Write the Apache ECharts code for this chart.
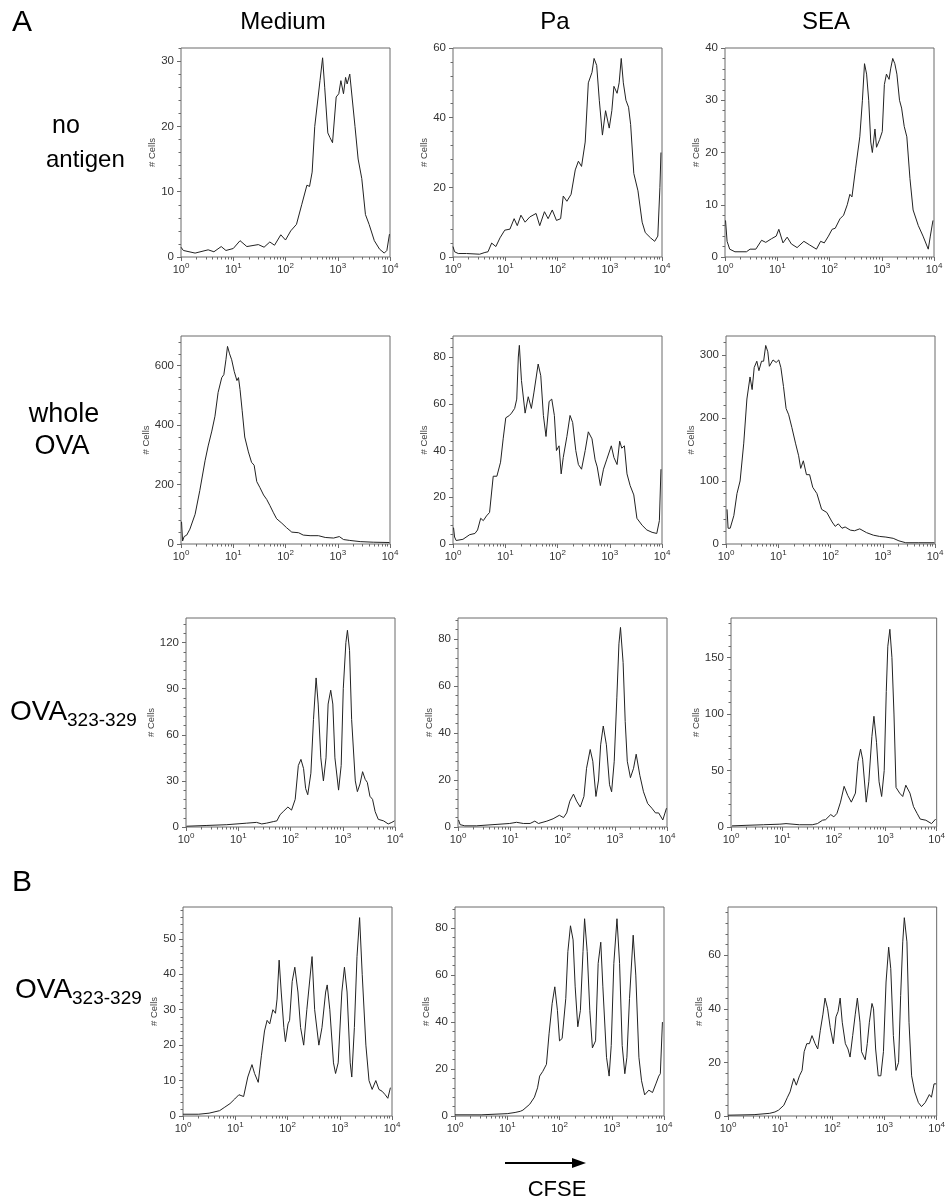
<!DOCTYPE html>
<html>
<head>
<meta charset="utf-8">
<title>CFSE proliferation histograms</title>
<script src="https://cdn.jsdelivr.net/npm/echarts@6/dist/echarts.min.js"></script>
<style>
  html, body { margin: 0; padding: 0; background: #fff; }
  #chart { width: 948px; height: 1203px; }
</style>
</head>
<body>
<div id="chart"></div>
<script>
// Column and row headings
const columnTitles = ['Medium', 'Pa', 'SEA'];
const rowLabels = ['no antigen', 'whole OVA', 'OVA323-329', 'OVA323-329'];

// Log-decade tick labels on the CFSE axis (exponent of 10)
const xDecades = [0, 1, 2, 3, 4];

// Y axis ranges and major tick steps, one per panel (row by row)
const yMax  = [32, 60, 40, 700, 89, 330, 136, 89, 185, 59, 89, 78];
const yStep = [10, 20, 10, 200, 20, 100, 30, 20, 50, 10, 20, 20];

// Histogram traces: [log10(CFSE), # cells]
// Row A1: no antigen
const noAgMedium = [[0,1.5],[0.045,1.0],[0.27,0.6],[0.52,1.1],[0.63,0.8],[0.77,1.6],[0.86,1.0],[1.0,1.3],[1.13,2.5],[1.26,1.6],[1.48,1.9],[1.59,1.5],[1.70,2.3],[1.79,1.8],[1.91,3.4],[2.0,2.6],[2.10,4.0],[2.21,5.0],[2.31,8.0],[2.41,11.0],[2.46,10.8],[2.51,13.0],[2.56,20.0],[2.66,27.0],[2.71,30.5],[2.75,26.0],[2.81,19.0],[2.85,18.3],[2.90,17.5],[2.97,24.5],[3.02,25.0],[3.06,27.0],[3.11,25.0],[3.15,27.5],[3.18,26.5],[3.23,28.0],[3.33,20.0],[3.39,15.0],[3.46,12.0],[3.53,6.5],[3.60,5.0],[3.70,2.5],[3.80,1.2],[3.89,0.6],[3.94,1.0],[3.99,3.5]];
const noAgPa = [[0,3],[0.03,1.5],[0.10,1.0],[0.26,1.0],[0.51,0.8],[0.61,1.3],[0.67,1.5],[0.74,4],[0.82,3],[0.90,5.5],[0.99,7.7],[1.09,8],[1.17,11],[1.23,9],[1.30,12],[1.38,10],[1.47,11.5],[1.59,12.5],[1.66,9],[1.75,13],[1.82,11],[1.90,13.5],[1.98,10.5],[2.06,11],[2.11,17.5],[2.18,16],[2.26,18],[2.34,25],[2.40,27.5],[2.46,26],[2.53,33],[2.59,50],[2.66,53],[2.70,57],[2.75,55],[2.80,45],[2.86,35],[2.92,42],[2.99,37],[3.04,42],[3.08,49],[3.14,47],[3.18,50],[3.22,57],[3.26,50],[3.31,45],[3.36,43],[3.40,38],[3.46,24],[3.54,19],[3.62,10],[3.68,7],[3.78,5.5],[3.86,4.5],[3.92,6],[3.96,20],[3.98,30]];
const noAgSEA = [[0.01,7],[0.04,3],[0.09,1.5],[0.19,1.0],[0.41,1.0],[0.48,1.5],[0.59,1.5],[0.70,3.2],[0.78,2.8],[0.89,3.5],[0.98,4],[1.03,5.3],[1.11,2.7],[1.19,3.8],[1.27,2.5],[1.38,1.8],[1.51,3.0],[1.62,2.3],[1.75,1.5],[1.83,3],[1.90,2.7],[1.98,4],[2.05,5.3],[2.11,5.5],[2.20,7.3],[2.27,8],[2.34,10],[2.39,12],[2.43,11.5],[2.50,17],[2.58,23],[2.63,30],[2.67,37],[2.71,35],[2.75,30],[2.79,22],[2.82,20],[2.87,24.5],[2.90,21],[2.96,22.5],[3.01,24],[3.05,33],[3.09,35],[3.14,34],[3.17,36],[3.21,38],[3.25,37],[3.29,35],[3.34,30],[3.38,28.5],[3.43,25],[3.48,23],[3.54,15],[3.60,9],[3.70,6],[3.79,4],[3.89,1.5],[3.93,4],[3.98,7]];

// Row A2: whole OVA
const ovaMedium = [[0.01,75],[0.03,10],[0.06,25],[0.11,30],[0.17,50],[0.27,100],[0.36,180],[0.46,280],[0.52,330],[0.59,380],[0.65,430],[0.71,510],[0.78,560],[0.82,570],[0.86,620],[0.89,665],[0.93,640],[0.97,620],[1.02,580],[1.07,550],[1.10,560],[1.13,520],[1.17,450],[1.22,360],[1.29,310],[1.35,275],[1.40,265],[1.45,210],[1.51,190],[1.58,165],[1.64,150],[1.70,130],[1.77,105],[1.83,85],[1.93,70],[2.02,55],[2.12,40],[2.25,38],[2.34,30],[2.47,28],[2.63,28],[2.76,22],[2.92,20],[3.03,25],[3.11,15],[3.23,12],[3.43,8],[3.68,6],[3.99,5]];
const ovaPa = [[0.01,7],[0.03,3],[0.06,1.5],[0.19,2],[0.32,4],[0.42,4.5],[0.47,6],[0.53,11],[0.58,10],[0.64,12],[0.70,13.5],[0.77,29],[0.84,29],[0.91,35],[0.96,45],[1.01,54],[1.08,55],[1.12,56],[1.18,58],[1.22,62],[1.25,80],[1.27,85],[1.31,70],[1.38,56],[1.44,63],[1.50,58],[1.55,65],[1.63,77],[1.68,72],[1.73,55],[1.78,46],[1.84,61],[1.89,62],[1.94,55],[1.98,40],[2.03,42],[2.07,30],[2.11,37],[2.18,46],[2.24,55],[2.29,52],[2.35,40],[2.40,34],[2.46,32],[2.53,40],[2.59,48],[2.66,45],[2.72,36],[2.76,33],[2.82,25],[2.88,32],[2.94,36],[3.03,42],[3.08,37],[3.14,34],[3.19,44],[3.23,41],[3.28,42],[3.33,30],[3.39,25],[3.46,21],[3.52,11],[3.62,8],[3.71,6],[3.81,5],[3.90,4.5],[3.95,10],[3.98,32]];
const ovaSEA = [[0.02,55],[0.04,25],[0.08,25],[0.15,45],[0.21,80],[0.27,100],[0.34,160],[0.40,230],[0.43,230],[0.46,265],[0.50,245],[0.54,280],[0.59,290],[0.63,275],[0.68,290],[0.72,290],[0.76,315],[0.80,305],[0.83,282],[0.90,292],[0.96,288],[1.01,292],[1.05,280],[1.10,250],[1.15,215],[1.20,205],[1.26,185],[1.33,160],[1.39,140],[1.43,120],[1.48,132],[1.54,110],[1.60,110],[1.66,90],[1.74,80],[1.83,55],[1.93,50],[2.03,35],[2.09,28],[2.15,32],[2.22,25],[2.28,27],[2.38,22],[2.46,21],[2.56,24],[2.69,18],[2.82,14],[2.94,12],[3.06,11],[3.20,9],[3.31,5],[3.44,2],[3.69,2],[3.99,2]];

// Row A3: OVA323-329 peptide
const pepMedium = [[0.01,0.5],[0.40,1],[0.78,1.5],[1.16,2.5],[1.35,3],[1.45,2],[1.54,2.5],[1.67,3.5],[1.74,4],[1.80,8],[1.86,10],[1.95,13],[2.02,11],[2.09,18],[2.15,40],[2.20,44],[2.25,38],[2.29,25],[2.33,21],[2.39,35],[2.44,70],[2.49,97],[2.53,80],[2.58,45],[2.63,30],[2.68,45],[2.72,80],[2.77,89],[2.81,80],[2.85,45],[2.92,24],[2.97,40],[3.01,90],[3.06,120],[3.09,128],[3.13,115],[3.17,70],[3.24,30],[3.28,23],[3.33,28],[3.38,36],[3.43,31],[3.47,29],[3.52,20],[3.57,18],[3.62,10],[3.68,5],[3.78,4],[3.87,2],[3.94,3],[3.99,4]];
const pepPa = [[0.01,3],[0.04,1],[0.13,0.5],[0.35,0.5],[0.67,1],[0.99,1.5],[1.12,2],[1.25,1.5],[1.38,1.5],[1.47,2.5],[1.54,1.5],[1.70,2.5],[1.82,3.5],[1.94,5],[2.02,4],[2.08,6],[2.14,11],[2.21,14],[2.27,11],[2.34,8.5],[2.41,13],[2.46,25],[2.53,33],[2.58,28],[2.64,13],[2.69,20],[2.73,35],[2.78,43],[2.84,35],[2.90,18],[2.94,15],[2.99,28],[3.04,55],[3.08,78],[3.11,85],[3.16,70],[3.20,45],[3.24,28],[3.30,21],[3.36,25],[3.41,31],[3.48,22],[3.55,15],[3.63,10],[3.71,8],[3.78,6],[3.84,6],[3.92,3],[3.99,8]];
const pepSEA = [[0.02,1],[0.31,1.5],[0.63,2],[0.95,2.5],[1.07,3],[1.33,2],[1.58,2],[1.68,3],[1.78,6],[1.84,6.5],[1.94,11],[2.00,9],[2.06,12],[2.13,22],[2.20,36],[2.27,28],[2.34,22],[2.42,30],[2.47,58],[2.52,69],[2.56,60],[2.63,22],[2.68,40],[2.74,80],[2.78,98],[2.83,75],[2.88,40],[2.93,27],[2.98,50],[3.02,120],[3.05,160],[3.09,175],[3.13,150],[3.17,100],[3.21,35],[3.28,30],[3.34,27],[3.40,37],[3.48,30],[3.55,18],[3.62,12],[3.68,7],[3.79,6],[3.90,3],[3.98,7]];

// Row B: OVA323-329 peptide, second experiment
const bMedium = [[0,0.5],[0.30,0.5],[0.50,0.8],[0.70,1.5],[0.80,2.5],[0.90,3.5],[0.99,4.8],[1.07,6],[1.16,5.5],[1.24,11],[1.32,14.5],[1.37,12],[1.44,9.5],[1.50,17],[1.56,24],[1.61,27],[1.66,26],[1.72,30],[1.77,29],[1.80,33],[1.84,44],[1.88,35],[1.93,25],[1.96,21],[2.01,26],[2.04,27],[2.09,38],[2.14,42],[2.20,35],[2.25,25],[2.31,20],[2.37,30],[2.47,45],[2.52,30],[2.60,20],[2.66,25],[2.73,35],[2.76,37],[2.81,30],[2.88,15],[2.92,12],[2.97,15],[3.04,35],[3.09,42],[3.14,35],[3.20,15],[3.23,11],[3.28,25],[3.33,45],[3.38,56],[3.43,40],[3.50,20],[3.56,10],[3.62,7.5],[3.69,10],[3.75,7.5],[3.81,7],[3.87,6],[3.92,5],[3.97,8]];
const bPa = [[0,0.5],[0.50,0.5],[1.00,1],[1.15,1.5],[1.25,2],[1.30,2.5],[1.33,3],[1.43,5],[1.52,8],[1.58,12],[1.62,17],[1.68,19],[1.75,22],[1.80,35],[1.86,48],[1.91,55],[1.96,45],[2.00,32],[2.05,33],[2.12,50],[2.16,70],[2.21,81],[2.26,75],[2.30,55],[2.35,38],[2.40,45],[2.45,70],[2.48,84],[2.53,70],[2.58,45],[2.63,29],[2.69,32],[2.74,65],[2.79,74],[2.83,55],[2.90,25],[2.95,17],[2.99,30],[3.04,65],[3.10,84],[3.15,65],[3.20,30],[3.25,18],[3.29,25],[3.34,50],[3.41,77],[3.46,60],[3.52,25],[3.57,15],[3.63,9],[3.71,11],[3.78,10],[3.85,14],[3.90,17],[3.93,18],[3.97,40]];
const bSEA = [[0,0.3],[0.50,0.5],[0.80,1.0],[0.90,1.5],[0.97,2.2],[1.07,4],[1.14,7],[1.19,9],[1.26,14],[1.31,11.5],[1.37,15],[1.42,17],[1.46,24],[1.51,27],[1.56,27],[1.61,30],[1.67,27],[1.72,25],[1.77,32],[1.82,38],[1.86,44],[1.91,40],[1.96,33],[2.02,27],[2.07,37],[2.11,39],[2.15,44],[2.19,35],[2.25,27],[2.30,25],[2.34,22],[2.39,30],[2.44,38],[2.48,44],[2.53,35],[2.56,24],[2.63,21],[2.67,27],[2.71,35],[2.76,42],[2.79,40],[2.83,25],[2.88,15],[2.93,15],[2.98,24],[3.03,50],[3.08,63],[3.12,55],[3.17,30],[3.22,17],[3.27,20],[3.31,45],[3.35,65],[3.38,74],[3.43,65],[3.47,35],[3.52,15],[3.58,9],[3.65,5],[3.71,3.5],[3.78,5],[3.86,8],[3.90,7],[3.95,12],[3.99,12]];

const traces = [noAgMedium, noAgPa, noAgSEA, ovaMedium, ovaPa, ovaSEA, pepMedium, pepPa, pepSEA, bMedium, bPa, bSEA];

// Plot frames (left, top, width, height) in page pixels
const frames = [
  [181, 48, 209, 209], [453, 48, 209, 209], [725, 48, 209, 209],
  [181, 336, 209, 208], [453, 336, 209, 208], [726, 336, 209, 208],
  [186, 618, 209, 209], [458, 618, 209, 209], [731, 618, 208, 209],
  [183, 907, 209, 209], [455, 907, 209, 209], [728, 907, 209, 209]
];

const FONT = 'Liberation Sans, Arial, Helvetica, sans-serif';
const INK = '#222';
const FRAME = '#6a6a6a';
const LABEL = '#333';

// log minor ticks: 2..9 within each decade
const minorX = [];
for (let d = 0; d < 4; d++) {
  for (let k = 2; k <= 9; k++) minorX.push(d + Math.log10(k));
}

function majorTicks(max, step) {
  const out = [];
  for (let v = 0; v <= max + 1e-9; v += step) out.push(v);
  return out;
}
function minorTicks(max, step) {
  const out = [];
  const m = step / 5;
  for (let i = 1; i * m <= max + 1e-9; i++) {
    if (i % 5 !== 0) out.push(+(i * m).toFixed(6));
  }
  return out;
}

const grid = [], xAxis = [], yAxis = [], series = [];

frames.forEach((f, i) => {
  grid.push({
    left: f[0], top: f[1], width: f[2], height: f[3],
    show: true, borderColor: FRAME, borderWidth: 1, backgroundColor: 'transparent'
  });
  // main CFSE axis with decade labels
  xAxis.push({
    gridIndex: i, type: 'value', min: 0, max: 4, interval: 1, position: 'bottom',
    axisLine: { show: false },
    axisTick: { show: true, length: 4, lineStyle: { color: FRAME } },
    splitLine: { show: false },
    axisLabel: {
      margin: 5, color: LABEL, fontFamily: FONT,
      customValues: xDecades,
      formatter: v => '{b|10}{s|' + Math.round(v) + '}',
      rich: {
        b: { fontSize: 11, fontFamily: FONT, color: LABEL, lineHeight: 16, verticalAlign: 'middle' },
        s: { fontSize: 8, fontFamily: FONT, color: LABEL, lineHeight: 16, verticalAlign: 'top' }
      }
    }
  });
  // minor log ticks
  xAxis.push({
    gridIndex: i, type: 'value', min: 0, max: 4, position: 'bottom',
    axisLine: { show: false }, axisLabel: { show: false }, splitLine: { show: false },
    axisTick: { show: true, length: 2.5, customValues: minorX, lineStyle: { color: FRAME } }
  });
  const majors = majorTicks(yMax[i], yStep[i]);
  yAxis.push({
    gridIndex: i, type: 'value', min: 0, max: yMax[i], position: 'left',
    name: '# Cells', nameLocation: 'middle', nameGap: 24, nameRotate: 90,
    nameTextStyle: { fontSize: 9.5, color: '#444', fontFamily: FONT },
    axisLine: { show: false }, splitLine: { show: false },
    axisTick: { show: true, length: 4, customValues: majors, lineStyle: { color: FRAME } },
    axisLabel: { customValues: majors, margin: 7, fontSize: 11.5, color: LABEL, fontFamily: FONT }
  });
  yAxis.push({
    gridIndex: i, type: 'value', min: 0, max: yMax[i], position: 'left',
    axisLine: { show: false }, axisLabel: { show: false }, splitLine: { show: false },
    axisTick: { show: true, length: 2.5, customValues: minorTicks(yMax[i], yStep[i]), lineStyle: { color: FRAME } }
  });
  series.push({
    type: 'line', xAxisIndex: 2 * i, yAxisIndex: 2 * i,
    data: traces[i], showSymbol: false, smooth: false, animation: false,
    lineStyle: { color: INK, width: 1 }, silent: true
  });
});

// Headings, panel letters and the CFSE arrow
const textStyle = (text, size, extra) => Object.assign({ text, fontSize: size, fontFamily: FONT, fill: '#000' }, extra || {});
const subLabel = (x, y) => ({
  type: 'text', x, y, style: {
    text: '{a|OVA}{b|323-329}', fontFamily: FONT, verticalAlign: 'middle',
    rich: { a: { fontSize: 28, fontFamily: FONT, fill: '#000', lineHeight: 36, verticalAlign: 'middle' },
            b: { fontSize: 19, fontFamily: FONT, fill: '#000', lineHeight: 36, verticalAlign: 'bottom' } } }
});
const graphic = [
  { type: 'text', left: 12, top: 8, style: textStyle('A', 30) },
  { type: 'text', left: 12, top: 868, style: textStyle('B', 30) },
  { type: 'text', x: 283, y: 22, style: textStyle(columnTitles[0], 24, { align: 'center', verticalAlign: 'middle' }) },
  { type: 'text', x: 555, y: 22, style: textStyle(columnTitles[1], 24, { align: 'center', verticalAlign: 'middle' }) },
  { type: 'text', x: 826, y: 22, style: textStyle(columnTitles[2], 24, { align: 'center', verticalAlign: 'middle' }) },
  { type: 'text', x: 52, y: 126, style: textStyle(rowLabels[0].split(' ')[0], 25, { verticalAlign: 'middle' }) },
  { type: 'text', x: 46, y: 160, style: textStyle(rowLabels[0].split(' ')[1], 24, { verticalAlign: 'middle' }) },
  { type: 'text', x: 64, y: 415, style: textStyle(rowLabels[1].split(' ')[0], 27, { align: 'center', verticalAlign: 'middle' }) },
  { type: 'text', x: 62, y: 447, style: textStyle(rowLabels[1].split(' ')[1], 27, { align: 'center', verticalAlign: 'middle' }) },
  subLabel(10, 712),
  subLabel(15, 990),
  { type: 'line', shape: { x1: 505, y1: 1163, x2: 576, y2: 1163 }, style: { stroke: '#000', lineWidth: 2 } },
  { type: 'polygon', shape: { points: [[586, 1163], [572, 1158], [572, 1168]] }, style: { fill: '#000' } },
  { type: 'text', x: 557, y: 1190, style: textStyle('CFSE', 22, { align: 'center', verticalAlign: 'middle' }) }
];

const chart = echarts.init(document.getElementById('chart'), null, { renderer: 'canvas' });
chart.setOption({
  animation: false,
  backgroundColor: '#fff',
  grid, xAxis, yAxis, series, graphic
});
</script>
</body>
</html>
